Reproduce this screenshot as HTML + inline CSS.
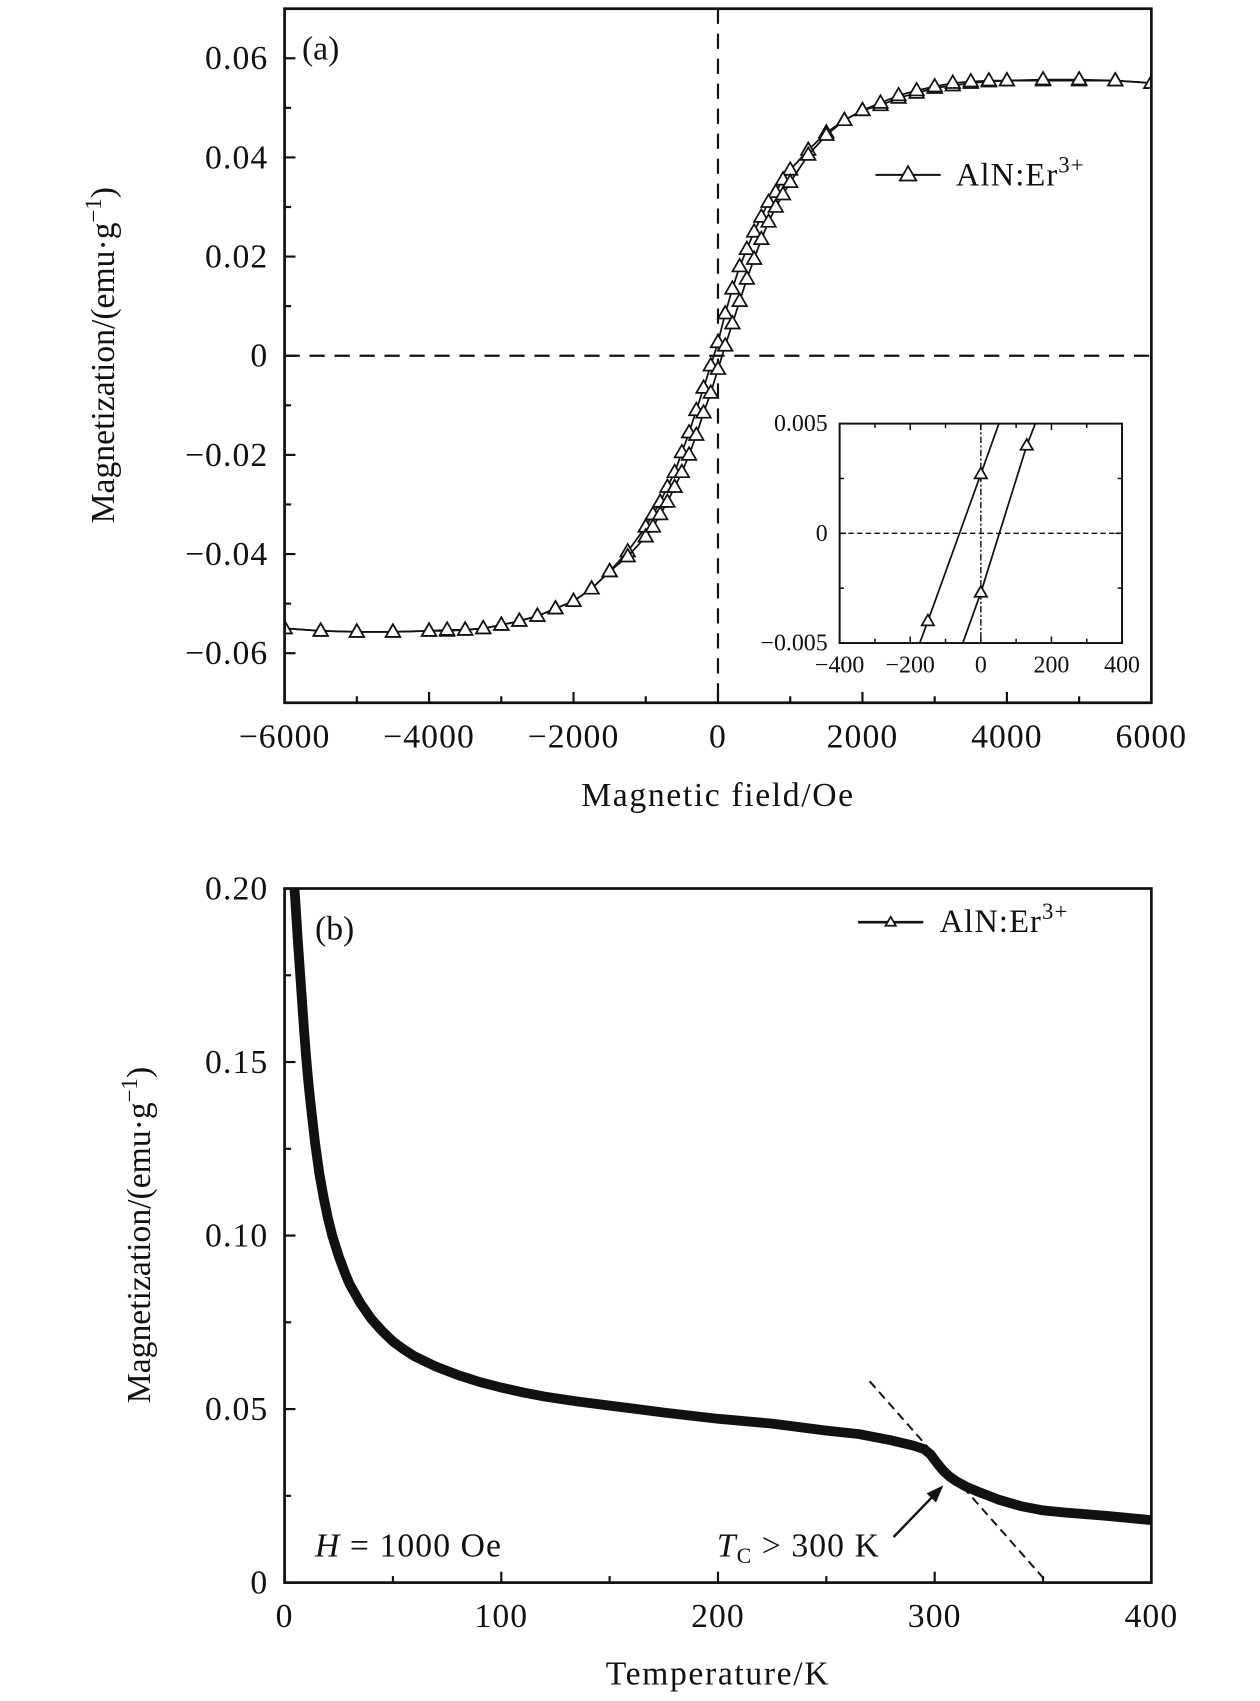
<!DOCTYPE html>
<html><head><meta charset="utf-8"><style>
html,body{margin:0;padding:0;background:#fff}
svg{display:block}
text{font-family:"Liberation Serif",serif;fill:#111}
</style></head><body>
<svg id="fig" width="1260" height="1701" viewBox="0 0 1160 1566" preserveAspectRatio="none" xmlns="http://www.w3.org/2000/svg">
<defs>
<clipPath id="clipA"><rect x="262" y="8" width="798" height="639"/></clipPath>
<clipPath id="clipI"><rect x="773" y="390" width="260" height="202"/></clipPath>
<clipPath id="clipB"><rect x="262" y="818" width="798" height="639"/></clipPath>
</defs>
<g id="gA"></g>
<g id="gI"></g>
<g id="gB"></g>
</svg>
<script>
// Panel (a) data
const aDescH = [6000,5500,5000,4500,4000,3750,3500,3250,3000,2750,2500,2250,2000,1750,1500,1250,1000,900,800,700,600,500,400,300,200,100,0,-100,-200,-300,-400,-500,-600,-700,-800,-900,-1000,-1250,-1500,-1750,-2000,-2250,-2500,-2750,-3000,-3250,-3500,-3750,-4000,-4500,-5000,-5500,-6000];
const aDescM = [0.055,0.0555,0.0555,0.0555,0.0555,0.0553,0.055,0.0545,0.054,0.053,0.052,0.0505,0.0495,0.0475,0.045,0.0415,0.0375,0.0355,0.033,0.031,0.028,0.025,0.0215,0.018,0.0135,0.0085,0.0027,-0.002,-0.0065,-0.011,-0.0155,-0.0195,-0.0235,-0.0265,-0.0295,-0.032,-0.0345,-0.0395,-0.0435,-0.047,-0.0495,-0.051,-0.0525,-0.0535,-0.0543,-0.055,-0.0553,-0.0555,-0.0555,-0.0557,-0.0557,-0.0555,-0.055];
const aAscH = [-6000,-5500,-5000,-4500,-4000,-3750,-3500,-3250,-3000,-2750,-2500,-2250,-2000,-1750,-1500,-1250,-1000,-900,-800,-700,-600,-500,-400,-300,-200,-100,0,100,200,300,400,500,600,700,800,900,1000,1250,1500,1750,2000,2250,2500,2750,3000,3250,3500,3750,4000,4500,5000,5500,6000];
const aAscM = [-0.055,-0.0555,-0.0557,-0.0557,-0.0555,-0.0553,-0.0553,-0.055,-0.0543,-0.0535,-0.0525,-0.051,-0.0495,-0.047,-0.0435,-0.0405,-0.0365,-0.0345,-0.032,-0.0295,-0.0265,-0.0235,-0.02,-0.016,-0.0115,-0.0075,-0.0027,0.002,0.0065,0.011,0.0155,0.0195,0.0235,0.027,0.03,0.0325,0.035,0.0405,0.0445,0.0475,0.0495,0.051,0.0525,0.0535,0.0543,0.055,0.0553,0.0555,0.0555,0.0557,0.0557,0.0555,0.055];
const aXTicks = [-6000,-4000,-2000,0,2000,4000,6000];
const aXLabels = ["\u22126000","\u22124000","\u22122000","0","2000","4000","6000"];
const aYTicks = [0.06,0.04,0.02,0,-0.02,-0.04,-0.06];
const aYLabels = ["0.06","0.04","0.02","0","\u22120.02","\u22120.04","\u22120.06"];
// Inset data
const iDescH = [-300,-150,0,100];
const iDescM = [-0.0105,-0.004,0.0027,0.0072];
const iDescMarkH = [-150,0];
const iDescMarkM = [-0.004,0.0027];
const iAscH = [-100,0,130,300];
const iAscM = [-0.0072,-0.0027,0.004,0.011];
const iAscMarkH = [0,130];
const iAscMarkM = [-0.0027,0.004];
const iXTicks = [-400,-200,0,200,400];
const iXLabels = ["\u2212400","\u2212200","0","200","400"];
const iYTicks = [0.005,0,-0.005];
const iYLabels = ["0.005","0","\u22120.005"];
// Panel (b) data
const bT = [4,5,6,7,8,9,10,11,12,14,16,18,20,22,25,28,30,35,40,45,50,55,60,70,80,90,100,110,120,135,150,175,200,225,250,265,280,290,295,298,301,304,307,310,315,320,325,330,340,350,360,380,400];
const bM = [0.205,0.196,0.186,0.177,0.168,0.159,0.151,0.144,0.138,0.127,0.118,0.111,0.105,0.1,0.094,0.089,0.086,0.0805,0.076,0.0725,0.0695,0.0672,0.0652,0.0622,0.0598,0.0578,0.0562,0.0548,0.0536,0.0522,0.051,0.049,0.0472,0.0458,0.0438,0.0428,0.041,0.0395,0.0385,0.037,0.0345,0.0322,0.0305,0.0292,0.0275,0.0262,0.025,0.0238,0.022,0.0208,0.0202,0.0192,0.018];
const bXTicks = [0,100,200,300,400];
const bXLabels = ["0","100","200","300","400"];
const bYTicks = [0,0.05,0.10,0.15,0.20];
const bYLabels = ["0","0.05","0.10","0.15","0.20"];
const tangentT = [270,352];
const tangentM = [0.058,0];
const arrowT = [281,304];
const arrowM = [0.0131,0.028];

const NS="http://www.w3.org/2000/svg";
function mk(parent,tag,attrs){const e=document.createElementNS(NS,tag);for(const k in attrs)e.setAttribute(k,attrs[k]);parent.appendChild(e);return e;}
function lin(d0,d1,r0,r1){return v=>r0+(v-d0)/(d1-d0)*(r1-r0);}

const gA=document.getElementById('gA'), gI=document.getElementById('gI'), gB=document.getElementById('gB');

function tri(parent,x,y,s){return mk(parent,'path',{d:`M${x},${y-s} L${x+s*0.95},${y+s*0.65} L${x-s*0.95},${y+s*0.65} Z`,fill:'#fff',stroke:'#111','stroke-width':1.6});}

// ---- Panel A ----
const ax=lin(-6000,6000,262,1060), ay=lin(-0.07,0.07,647,8);
let e=mk(gA,'line',{x1:262,x2:1060,y1:ay(0),y2:ay(0),stroke:'#111','stroke-width':2,'stroke-dasharray':'14,9'});

e=mk(gA,'line',{x1:ax(0),x2:ax(0),y1:8,y2:647,stroke:'#111','stroke-width':2,'stroke-dasharray':'14,9'});

const sA=mk(gA,'g',{'clip-path':'url(#clipA)'});

[[aDescH,aDescM],[aAscH,aAscM]].forEach(([H,M])=>{
  const pl=mk(sA,'polyline',{points:H.map((h,i)=>ax(h)+','+ay(M[i])).join(' '),fill:'none',stroke:'#111','stroke-width':1.6});
  
  H.forEach((h,i)=>{const t=tri(sA,ax(h),ay(M[i]),7);});
});
e=mk(gA,'rect',{x:262,y:8,width:798,height:639,fill:'none',stroke:'#111','stroke-width':2.5});

for(let v=-6000;v<=6000;v+=1000){const maj=v%2000===0;mk(gA,'line',{x1:ax(v),x2:ax(v),y1:647,y2:647-(maj?10:6),stroke:'#111','stroke-width':2});}
for(let k=-6;k<=6;k++){const v=k*0.01;const maj=k%2===0;mk(gA,'line',{x1:262,x2:262+(maj?10:6),y1:ay(v),y2:ay(v),stroke:'#111','stroke-width':2});}
aXTicks.forEach((v,i)=>{const t=mk(gA,'text',{x:ax(v),y:688,'font-size':31,'text-anchor':'middle','letter-spacing':'1'});t.textContent=aXLabels[i];});
aYTicks.forEach((v,i)=>{const t=mk(gA,'text',{x:247,y:ay(v)+10,'font-size':31,'text-anchor':'end','letter-spacing':'1'});t.textContent=aYLabels[i];});
e=mk(gA,'text',{x:661,y:742,'font-size':31,'text-anchor':'middle','letter-spacing':'1.5'});e.textContent='Magnetic field/Oe';

e=mk(gA,'text',{x:0,y:0,'font-size':31,'text-anchor':'middle',transform:'translate(105,327) rotate(-90)'});
e.innerHTML='Magnetization/(emu·g<tspan dy="-12" font-size="21">\u22121</tspan><tspan dy="12">)</tspan>';

e=mk(gA,'text',{x:278,y:55,'font-size':31});e.textContent='(a)';

const lgA=mk(gA,'g',{});
mk(lgA,'line',{x1:806,x2:866,y1:161,y2:161,stroke:'#111','stroke-width':1.8});tri(lgA,836,161,8);
e=mk(lgA,'text',{x:880,y:171,'font-size':30,'letter-spacing':'1'});e.innerHTML='AlN:Er<tspan dy="-12" font-size="21">3+</tspan>';

// ---- Inset ----
const ix=lin(-400,400,773,1033), iy=lin(-0.005,0.005,592,390);
mk(gI,'rect',{x:773,y:390,width:260,height:202,fill:'#fff',stroke:'none'});
e=mk(gI,'line',{x1:773,x2:1033,y1:iy(0),y2:iy(0),stroke:'#111','stroke-width':1.3,'stroke-dasharray':'5,3'});

e=mk(gI,'line',{x1:ix(0),x2:ix(0),y1:390,y2:592,stroke:'#111','stroke-width':1.3,'stroke-dasharray':'6,2,2,2'});

const sI=mk(gI,'g',{'clip-path':'url(#clipI)'});
[[iDescH,iDescM,iDescMarkH,iDescMarkM],[iAscH,iAscM,iAscMarkH,iAscMarkM]].forEach(([H,M,MH,MM])=>{
  const pl=mk(sI,'polyline',{points:H.map((h,i)=>ix(h)+','+iy(M[i])).join(' '),fill:'none',stroke:'#111','stroke-width':1.6});
  
  MH.forEach((h,i)=>{const t=tri(sI,ix(h),iy(MM[i]),6);});
});
e=mk(gI,'rect',{x:773,y:390,width:260,height:202,fill:'none',stroke:'#111','stroke-width':1.8});

for(let v=-400;v<=400;v+=100){const maj=v%200===0;mk(gI,'line',{x1:ix(v),x2:ix(v),y1:592,y2:592-(maj?6:4),stroke:'#111','stroke-width':1.4});mk(gI,'line',{x1:ix(v),x2:ix(v),y1:390,y2:390+(maj?6:4),stroke:'#111','stroke-width':1.4});}
for(let k=-2;k<=2;k++){const v=k*0.0025;const maj=k%2===0;mk(gI,'line',{x1:773,x2:773+(maj?6:4),y1:iy(v),y2:iy(v),stroke:'#111','stroke-width':1.4});mk(gI,'line',{x1:1033,x2:1033-(maj?6:4),y1:iy(v),y2:iy(v),stroke:'#111','stroke-width':1.4});}
iXTicks.forEach((v,i)=>{const t=mk(gI,'text',{x:ix(v),y:619,'font-size':22,'text-anchor':'middle'});t.textContent=iXLabels[i];});
iYTicks.forEach((v,i)=>{const t=mk(gI,'text',{x:762,y:iy(v)+7,'font-size':22,'text-anchor':'end'});t.textContent=iYLabels[i];});

// ---- Panel B ----
const bx=lin(0,400,262,1060), by=lin(0,0.2,1457,818);
const sB=mk(gB,'g',{'clip-path':'url(#clipB)'});
e=mk(sB,'polyline',{points:bT.map((t,i)=>bx(t)+','+by(bM[i])).join(' '),fill:'none',stroke:'#111','stroke-width':9,'stroke-linejoin':'round','stroke-linecap':'round'});

e=mk(gB,'line',{x1:bx(tangentT[0]),y1:by(tangentM[0]),x2:bx(tangentT[1]),y2:by(tangentM[1]),stroke:'#111','stroke-width':1.8,'stroke-dasharray':'8,5'});

const ag=mk(gB,'g',{});
{const x1=bx(arrowT[0]),y1=by(arrowM[0]),x2=bx(arrowT[1]),y2=by(arrowM[1]);const a=Math.atan2(y2-y1,x2-x1);
mk(ag,'line',{x1:x1,y1:y1,x2:x2-12*Math.cos(a),y2:y2-12*Math.sin(a),stroke:'#111','stroke-width':2.2});
const L=16,W=6;mk(ag,'path',{d:`M${x2},${y2} L${x2-L*Math.cos(a)+W*Math.sin(a)},${y2-L*Math.sin(a)-W*Math.cos(a)} L${x2-L*Math.cos(a)-W*Math.sin(a)},${y2-L*Math.sin(a)+W*Math.cos(a)} Z`,fill:'#111'});}
e=mk(gB,'rect',{x:262,y:818,width:798,height:639,fill:'none',stroke:'#111','stroke-width':2.5});

for(let v=0;v<=400;v+=50){const maj=v%100===0;mk(gB,'line',{x1:bx(v),x2:bx(v),y1:1457,y2:1457-(maj?10:6),stroke:'#111','stroke-width':2});}
for(let k=0;k<=8;k++){const v=k*0.025;const maj=k%2===0;mk(gB,'line',{x1:262,x2:262+(maj?10:6),y1:by(v),y2:by(v),stroke:'#111','stroke-width':2});}
bXTicks.forEach((v,i)=>{const t=mk(gB,'text',{x:bx(v),y:1498,'font-size':31,'text-anchor':'middle','letter-spacing':'1'});t.textContent=bXLabels[i];});
bYTicks.forEach((v,i)=>{const t=mk(gB,'text',{x:247,y:by(v)+10,'font-size':31,'text-anchor':'end','letter-spacing':'1'});t.textContent=bYLabels[i];});
e=mk(gB,'text',{x:661,y:1551,'font-size':31,'text-anchor':'middle','letter-spacing':'1.5'});e.textContent='Temperature/K';

e=mk(gB,'text',{x:0,y:0,'font-size':31,'text-anchor':'middle',transform:'translate(138,1137) rotate(-90)'});
e.innerHTML='Magnetization/(emu·g<tspan dy="-12" font-size="21">\u22121</tspan><tspan dy="12">)</tspan>';

e=mk(gB,'text',{x:290,y:865,'font-size':31});e.textContent='(b)';

e=mk(gB,'text',{x:290,y:1433,'font-size':31,'letter-spacing':'1'});e.innerHTML='<tspan font-style="italic">H</tspan> = 1000 Oe';

e=mk(gB,'text',{x:660,y:1433,'font-size':31,'letter-spacing':'1'});e.innerHTML='<tspan font-style="italic">T</tspan><tspan dy="6" font-size="20">C</tspan><tspan dy="-6"> &gt; 300 K</tspan>';

const lgB=mk(gB,'g',{});
mk(lgB,'line',{x1:790,x2:850,y1:849,y2:849,stroke:'#111','stroke-width':2.5});tri(lgB,820,849,5);
e=mk(lgB,'text',{x:865,y:858,'font-size':30,'letter-spacing':'1'});e.innerHTML='AlN:Er<tspan dy="-12" font-size="21">3+</tspan>';
</script>
</body></html>
